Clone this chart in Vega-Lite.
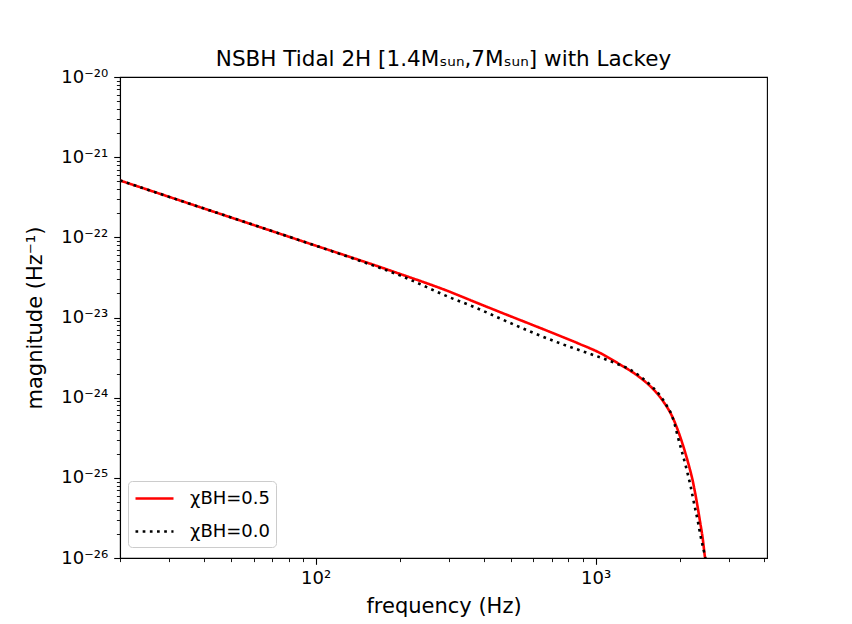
{
  "$schema": "https://vega.github.io/schema/vega-lite/v6.json",
  "width": 647,
  "height": 481,
  "autosize": {"type": "none"},
  "padding": {"left": 120, "top": 77, "right": 85, "bottom": 66},
  "background": "white",
  "config": {
    "font": "DejaVu Sans",
    "view": {"stroke": "black", "strokeWidth": 1.1},
    "axis": {
      "grid": false,
      "domainColor": "black",
      "tickColor": "black",
      "labelColor": "black",
      "titleColor": "black",
      "labelFont": "DejaVu Sans",
      "titleFont": "DejaVu Sans",
      "titleFontWeight": "normal",
      "labelFlush": false,
      "labelOverlap": false,
      "labelBound": false
    },
    "legend": {
      "orient": "none",
      "legendX": 8,
      "legendY": 404,
      "padding": 6,
      "fillColor": "rgba(255,255,255,0.8)",
      "strokeColor": "#cccccc",
      "strokeWidth": 1,
      "cornerRadius": 4,
      "symbolType": "M-1.9,0L1.9,0",
      "symbolSize": 400,
      "symbolOffset": 9,
      "symbolStrokeWidth": 2.6,
      "labelFontSize": 18,
      "labelFont": "DejaVu Sans",
      "labelColor": "black",
      "labelOffset": 24,
      "rowPadding": 12,
      "titlePadding": 0
    }
  },
  "title": {
    "text": "NSBH Tidal 2H [1.4Mₛᵤₙ,7Mₛᵤₙ] with Lackey",
    "fontSize": 21.5,
    "fontWeight": "normal",
    "font": "DejaVu Sans",
    "color": "black",
    "anchor": "middle",
    "baseline": "alphabetic",
    "offset": -19
  },
  "datasets": {
    "red": [
      {"f": 20, "a": 5.12e-22, "s": "χBH=0.5"},
      {"f": 38.6, "a": 2.38e-22, "s": "χBH=0.5"},
      {"f": 87.9, "a": 9.15e-23, "s": "χBH=0.5"},
      {"f": 200, "a": 3.50e-23, "s": "χBH=0.5"},
      {"f": 301.8, "a": 2.09e-23, "s": "χBH=0.5"},
      {"f": 370.6, "a": 1.56e-23, "s": "χBH=0.5"},
      {"f": 455.1, "a": 1.17e-23, "s": "χBH=0.5"},
      {"f": 582.5, "a": 8.32e-24, "s": "χBH=0.5"},
      {"f": 745.6, "a": 5.90e-24, "s": "χBH=0.5"},
      {"f": 878.8, "a": 4.66e-24, "s": "χBH=0.5"},
      {"f": 1035.9, "a": 3.62e-24, "s": "χBH=0.5"},
      {"f": 1220.9, "a": 2.60e-24, "s": "χBH=0.5"},
      {"f": 1439.3, "a": 1.79e-24, "s": "χBH=0.5"},
      {"f": 1601.8, "a": 1.29e-24, "s": "χBH=0.5"},
      {"f": 1739.0, "a": 9.12e-25, "s": "χBH=0.5"},
      {"f": 1888.0, "a": 5.60e-25, "s": "χBH=0.5"},
      {"f": 2000.0, "a": 3.34e-25, "s": "χBH=0.5"},
      {"f": 2083.9, "a": 2.14e-25, "s": "χBH=0.5"},
      {"f": 2153.5, "a": 1.43e-25, "s": "χBH=0.5"},
      {"f": 2225.4, "a": 9.05e-26, "s": "χBH=0.5"},
      {"f": 2299.8, "a": 4.95e-26, "s": "χBH=0.5"},
      {"f": 2357.3, "a": 2.95e-26, "s": "χBH=0.5"},
      {"f": 2416.1, "a": 1.71e-26, "s": "χBH=0.5"},
      {"f": 2456.4, "a": 1.05e-26, "s": "χBH=0.5"},
      {"f": 2486.5, "a": 7.9e-27, "s": "χBH=0.5"}
    ],
    "black": [
      {"f": 20, "a": 5.12e-22, "s": "χBH=0.0"},
      {"f": 38.6, "a": 2.38e-22, "s": "χBH=0.0"},
      {"f": 87.9, "a": 9.15e-23, "s": "χBH=0.0"},
      {"f": 132.6, "a": 5.62e-23, "s": "χBH=0.0"},
      {"f": 200, "a": 3.35e-23, "s": "χBH=0.0"},
      {"f": 301.8, "a": 1.78e-23, "s": "χBH=0.0"},
      {"f": 370.6, "a": 1.34e-23, "s": "χBH=0.0"},
      {"f": 455.1, "a": 9.75e-24, "s": "χBH=0.0"},
      {"f": 582.5, "a": 6.71e-24, "s": "χBH=0.0"},
      {"f": 764.1, "a": 4.62e-24, "s": "χBH=0.0"},
      {"f": 900.7, "a": 3.78e-24, "s": "χBH=0.0"},
      {"f": 1061.7, "a": 3.09e-24, "s": "χBH=0.0"},
      {"f": 1191.2, "a": 2.65e-24, "s": "χBH=0.0"},
      {"f": 1325.6, "a": 2.25e-24, "s": "χBH=0.0"},
      {"f": 1475.3, "a": 1.73e-24, "s": "χBH=0.0"},
      {"f": 1601.8, "a": 1.34e-24, "s": "χBH=0.0"},
      {"f": 1696.7, "a": 1.07e-24, "s": "χBH=0.0"},
      {"f": 1797.3, "a": 7.90e-25, "s": "χBH=0.0"},
      {"f": 1872.4, "a": 6.02e-25, "s": "χBH=0.0"},
      {"f": 1919.2, "a": 4.58e-25, "s": "χBH=0.0"},
      {"f": 1967.4, "a": 3.24e-25, "s": "χBH=0.0"},
      {"f": 2032.8, "a": 2.14e-25, "s": "χBH=0.0"},
      {"f": 2118.4, "a": 1.24e-25, "s": "χBH=0.0"},
      {"f": 2189.2, "a": 7.61e-26, "s": "χBH=0.0"},
      {"f": 2243.9, "a": 4.95e-26, "s": "χBH=0.0"},
      {"f": 2319.0, "a": 2.87e-26, "s": "χBH=0.0"},
      {"f": 2376.8, "a": 1.81e-26, "s": "χBH=0.0"},
      {"f": 2456.4, "a": 1.08e-26, "s": "χBH=0.0"},
      {"f": 2486.5, "a": 8.8e-27, "s": "χBH=0.0"}
    ]
  },
  "layer": [
    {
      "data": {"name": "red"},
      "mark": {"type": "line", "clip": true, "strokeWidth": 2.6, "strokeCap": "butt", "interpolate": "monotone"},
      "encoding": {
        "x": {
          "field": "f", "type": "quantitative",
          "scale": {"type": "log", "domain": [20, 4096], "nice": false},
          "axis": {
            "orient": "bottom", "title": null, "labels": false, "domain": false,
            "tickSize": 3.6, "tickWidth": 0.9,
            "values": [20, 30, 40, 50, 60, 70, 80, 90, 200, 300, 400, 500, 600, 700, 800, 900, 2000, 3000, 4000]
          }
        },
        "y": {
          "field": "a", "type": "quantitative",
          "scale": {"type": "log", "domain": [1e-26, 1e-20], "nice": false},
          "axis": {
            "orient": "left", "title": null, "labels": false, "domain": false,
            "tickSize": 3.6, "tickWidth": 0.9,
            "values": [2e-26, 3e-26, 4e-26, 5e-26, 6e-26, 7e-26, 8e-26, 9e-26,
                       2e-25, 3e-25, 4e-25, 5e-25, 6e-25, 7e-25, 8e-25, 9e-25,
                       2e-24, 3e-24, 4e-24, 5e-24, 6e-24, 7e-24, 8e-24, 9e-24,
                       2e-23, 3e-23, 4e-23, 5e-23, 6e-23, 7e-23, 8e-23, 9e-23,
                       2e-22, 3e-22, 4e-22, 5e-22, 6e-22, 7e-22, 8e-22, 9e-22,
                       2e-21, 3e-21, 4e-21, 5e-21, 6e-21, 7e-21, 8e-21, 9e-21]
          }
        },
        "color": {
          "field": "s", "type": "nominal",
          "scale": {"domain": ["χBH=0.5", "χBH=0.0"], "range": ["#ff0000", "#000000"]},
          "legend": {"title": null}
        },
        "strokeDash": {
          "field": "s", "type": "nominal",
          "scale": {"domain": ["χBH=0.5", "χBH=0.0"], "range": [[1, 0], [2.7, 4.47]]},
          "legend": {"title": null}
        }
      }
    },
    {
      "data": {"name": "black"},
      "mark": {"type": "line", "clip": true, "strokeWidth": 2.6, "strokeCap": "butt", "interpolate": "monotone"},
      "encoding": {
        "x": {
          "field": "f", "type": "quantitative",
          "scale": {"type": "log", "domain": [20, 4096], "nice": false},
          "axis": {
            "orient": "bottom", "title": "frequency (Hz)", "titleFontSize": 21,
            "titlePadding": 8, "domain": true, "domainWidth": 1.1,
            "tickSize": 6.3, "tickWidth": 1.1, "labelPadding": 5,
            "labelFontSize": 18, "values": [100, 1000],
            "labelExpr": "datum.value < 500 ? '10²' : '10³'"
          }
        },
        "y": {
          "field": "a", "type": "quantitative",
          "scale": {"type": "log", "domain": [1e-26, 1e-20], "nice": false},
          "axis": {
            "orient": "left", "title": "magnitude (Hz⁻¹)", "titleFontSize": 21,
            "titlePadding": 15, "domain": true, "domainWidth": 1.1,
            "tickSize": 6.3, "tickWidth": 1.1, "labelPadding": 6,
            "labelFontSize": 18,
            "values": [1e-26, 1e-25, 1e-24, 1e-23, 1e-22, 1e-21, 1e-20],
            "labelExpr": "'10⁻²' + ['⁰','¹','²','³','⁴','⁵','⁶'][-round(log(datum.value)/LN10) - 20]"
          }
        },
        "color": {
          "field": "s", "type": "nominal",
          "scale": {"domain": ["χBH=0.5", "χBH=0.0"], "range": ["#ff0000", "#000000"]},
          "legend": {"title": null}
        },
        "strokeDash": {
          "field": "s", "type": "nominal",
          "scale": {"domain": ["χBH=0.5", "χBH=0.0"], "range": [[1, 0], [2.7, 4.47]]},
          "legend": {"title": null}
        }
      }
    }
  ],
  "resolve": {"axis": {"x": "independent", "y": "independent"}}
}
